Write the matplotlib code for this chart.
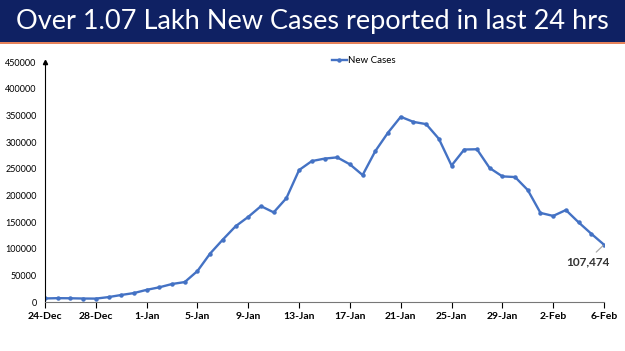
import matplotlib.pyplot as plt
import pandas as pd

# ====================================================
# Data
# ====================================================

dates = pd.date_range("2021-12-24", "2022-02-06", freq="D")
new_cases = [
    6650, 7189, 6987, 6531, 6358, 9195, 13154, 16764,
    22775, 27553, 33750, 37379, 58097, 90928, 117100, 141986,
    159632, 179723, 168063, 194720, 247417, 264202, 268833, 271202,
    258089, 238018, 282970, 317532, 347254, 337704, 333533, 306064,
    255874, 285914, 286384, 251209, 235532, 234281, 209918,
    167059, 161386, 172433, 149394, 127952, 107474,
]
title = "Over 1.07 Lakh New Cases reported in last 24 hrs"
y_ticks = list(range(0, 450001, 50000))

# ====================================================
# Plot
# ====================================================

plt.rcParams["font.family"] = ["Lato", "DejaVu Sans"]
fig = plt.figure(figsize=(6.25, 3.51), dpi=100)

# title banner
banner = fig.add_axes([0, 1 - 42 / 351, 1, 42 / 351])
banner.set_facecolor("#0f2163")
banner.set_xticks([])
banner.set_yticks([])
for s in banner.spines.values():
    s.set_visible(False)
banner.text(0.5, 0.5, title, color="white", fontsize=19.5,
            ha="center", va="center", transform=banner.transAxes)
fig.add_artist(plt.Line2D([0, 1], [1 - 43 / 351] * 2, color="#e06a3a",
                          linewidth=1.2, transform=fig.transFigure))

ax = fig.add_axes([45 / 625, 1 - 302 / 351, (604 - 45) / 625, (302 - 62) / 351])
ax.plot(dates, new_cases, color="#4472c4", linewidth=1.7, marker="o",
        markersize=2.2, label="New Cases")

ax.set_xlim(dates[0], dates[-1])
ax.set_ylim(0, 450000)
ax.set_yticks(y_ticks)
ax.set_yticklabels([str(v) for v in y_ticks], fontsize=6.5)
ax.tick_params(axis="y", length=0, pad=6)

ticks = [d for d in dates[::4]]
ax.set_xticks(ticks)
ax.set_xticklabels([d.strftime("%-d-%b") for d in ticks], fontsize=7.5,
                   fontweight="bold")
ax.tick_params(axis="x", length=4, direction="out", pad=3)

ax.spines["top"].set_visible(False)
ax.spines["right"].set_visible(False)
ax.spines["left"].set_linewidth(0.8)
ax.spines["bottom"].set_color("#777777")
ax.plot(0, 1, marker="^", color="black", markersize=3,
        transform=ax.transAxes, clip_on=False)

ax.legend(loc="upper center", bbox_to_anchor=(0.57, 1.06), frameon=False,
          fontsize=7, handlelength=1.6, handletextpad=0.1)

ax.annotate(f"{new_cases[-1]:,}", xy=(dates[-1], new_cases[-1]),
            xytext=(dates[-4], 75000), fontsize=8.5, fontweight="bold",
            color="#333333", ha="left", va="center",
            arrowprops=dict(arrowstyle="-", color="#aaaaaa", lw=0.9,
                            shrinkA=0, shrinkB=1, patchA=None,
                            relpos=(0.7, 1.4)))

fig.savefig("out.png", dpi=100)
